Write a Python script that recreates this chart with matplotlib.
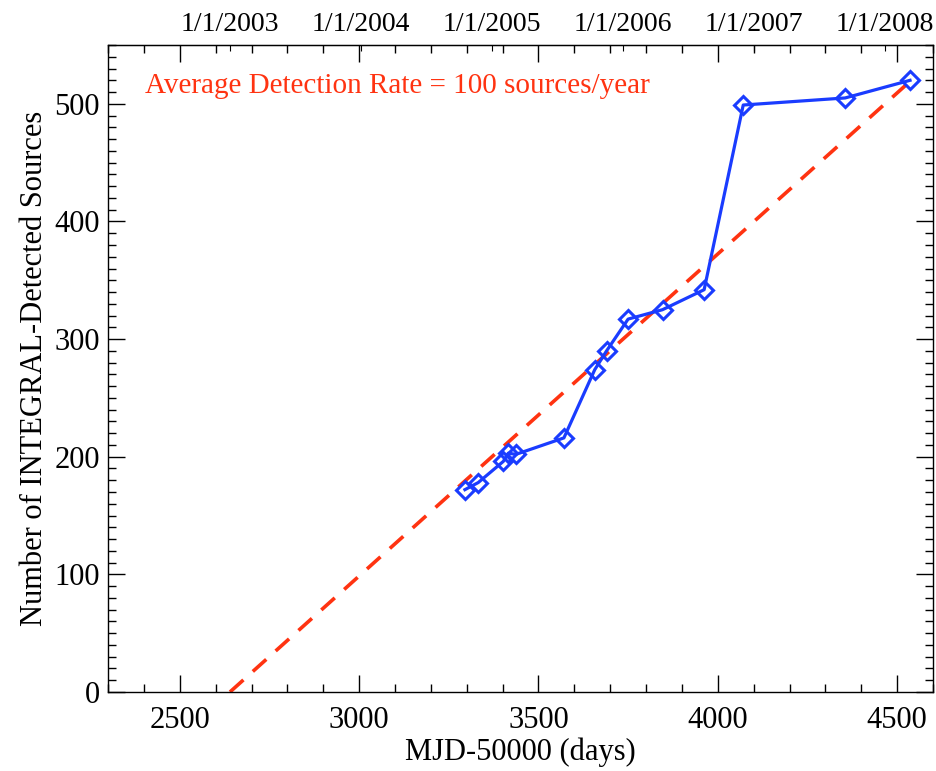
import matplotlib.pyplot as plt
from matplotlib.ticker import MultipleLocator

plt.rcParams['font.family'] = ['Liberation Serif', 'DejaVu Serif']

# observed source counts (MJD-50000, number of sources)
mjd = [3295, 3332, 3402, 3416, 3437, 3571, 3657, 3690, 3750, 3846, 3962, 4071, 4355, 4536]
nsrc = [172, 178, 196, 203, 202, 216, 274, 290, 317, 325, 342, 499, 505, 520]

# average rate line: 0 at 1/1/2003 up to last point
rate_per_year = 100.0
rate_start = 2640

date_pos = [2640, 3005, 3371, 3736, 4101, 4466]
date_labels = ['1/1/2003', '1/1/2004', '1/1/2005', '1/1/2006', '1/1/2007', '1/1/2008']

fig = plt.figure(figsize=(9.37, 7.71), dpi=100)
ax = fig.add_axes([0.1153, 0.1025, 0.8804, 0.8391])

rx = [rate_start, mjd[-1]]
ry = [0, (mjd[-1] - rate_start) * rate_per_year / 365.25]
ax.plot(rx, ry, color='#ff3311', lw=2.6, dashes=(5, 3.5), zorder=2)
ax.plot(mjd, nsrc, color='#1a3cff', lw=2.3, marker='D', ms=9, mfc='none',
        mec='#1a3cff', mew=2.2, zorder=3)

ax.text(2403, 509, 'Average Detection Rate = 100 sources/year', color='#ff3311',
        fontsize=21)

ax.set_xlim(2300, 4600)
ax.set_ylim(0, 550)
ax.xaxis.set_major_locator(MultipleLocator(500))
ax.xaxis.set_minor_locator(MultipleLocator(100))
ax.yaxis.set_major_locator(MultipleLocator(100))
ax.yaxis.set_minor_locator(MultipleLocator(10))
ax.tick_params(which='both', direction='in', top=True, right=True, labelsize=22, width=1)
ax.tick_params(which='major', length=12, pad=10)
ax.tick_params(which='minor', length=6)
ax.tick_params(axis='y', which='major', pad=6)
ax.set_xlabel('MJD-50000 (days)', fontsize=22, labelpad=2)
ax.set_ylabel('Number of INTEGRAL-Detected Sources', fontsize=22, labelpad=4)

top = ax.secondary_xaxis('top')
top.set_xticks(date_pos)
top.set_xticklabels(date_labels)
top.tick_params(direction='in', length=4, labelsize=20, pad=6)
top.xaxis.set_minor_locator(MultipleLocator(10000))

for sp in ax.spines.values():
    sp.set_linewidth(1)

plt.savefig('out.png')
